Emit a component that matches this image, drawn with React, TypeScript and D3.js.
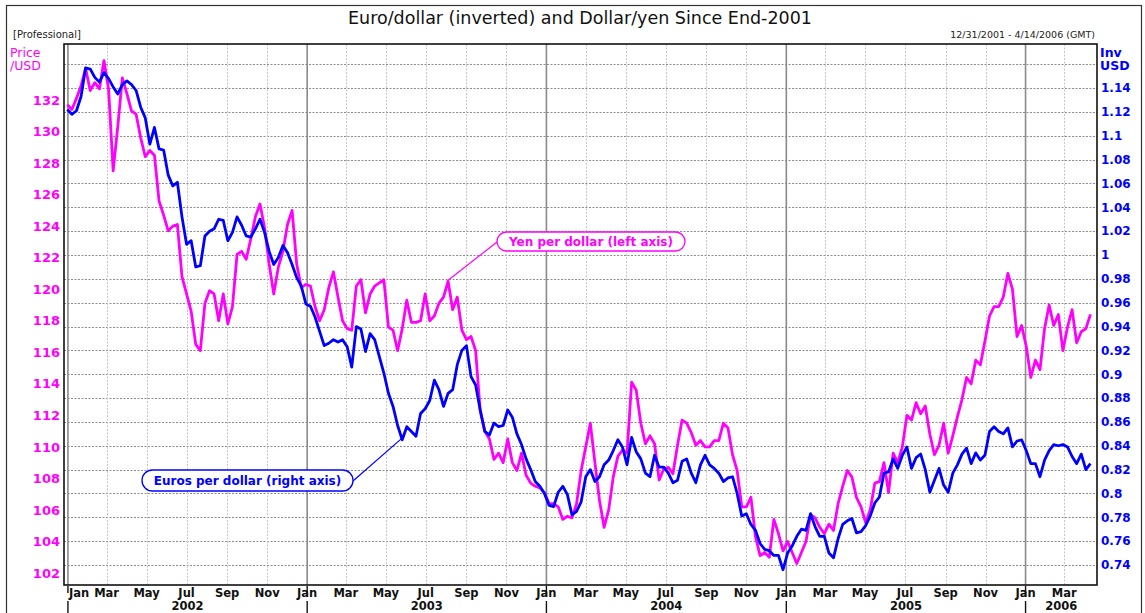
import React, { useEffect, useRef } from 'react';
import * as d3 from 'd3';

// weekly closes, first one on 12/31/2001
const seriesStart = '2001-12-31';

// Yen per dollar (left axis)
const yenPerDollar = [
  131.7, 131.4, 132.1, 132.9, 134.0, 132.6, 133.1, 132.7, 134.5, 132.7,
  127.5, 130.3, 133.4, 132.4, 131.3, 131.1, 129.6, 128.4, 128.8, 128.5,
  125.6, 124.7, 123.7, 124.0, 124.1, 120.8, 119.7, 118.6, 116.5, 116.1,
  119.1, 119.9, 119.7, 118.0, 119.7, 117.8, 118.9, 122.2, 122.4, 121.9,
  123.2, 124.6, 125.4, 123.9, 121.6, 119.7, 121.4, 122.4, 124.1, 125.0,
  121.6, 120.1, 120.3, 120.2, 118.9, 118.0, 118.7, 120.1, 121.1, 119.5,
  118.0, 117.5, 117.4, 120.2, 120.6, 118.5, 119.7, 120.2, 120.4, 120.6,
  117.6, 117.4, 116.1, 117.5, 119.3, 117.9, 117.9, 118.0, 119.7, 118.0,
  118.3, 119.1, 119.5, 120.5, 118.7, 119.5, 117.4, 116.8, 117.0, 116.1,
  112.3, 111.0, 110.5, 109.2, 109.6, 109.0, 110.5, 109.0, 108.5, 109.6,
  108.2, 107.7, 107.5, 107.4, 107.1, 106.4, 106.4, 106.2, 105.4, 105.6,
  105.5, 106.4, 108.5, 110.0, 111.5, 109.0, 106.6, 104.9, 106.0, 108.1,
  109.4, 109.8, 109.6, 114.1, 113.6, 111.5, 110.2, 110.7, 110.2, 107.9,
  108.6, 108.7, 108.3, 110.1, 111.7, 111.5, 110.9, 110.1, 110.4, 110.0,
  110.0, 110.4, 110.4, 111.5, 111.2, 109.5, 108.5, 106.2, 106.2, 106.8,
  104.3, 103.1, 103.3, 103.0, 105.4, 104.5, 103.4, 104.0, 103.3, 102.6,
  103.3, 104.0, 105.7, 105.5, 104.9, 104.5, 105.1, 104.7, 106.4, 107.5,
  108.5, 108.1, 106.8, 106.2, 105.2, 106.0, 107.7, 107.8, 109.0, 107.1,
  109.6, 109.0, 110.0, 112.0, 111.7, 112.8, 112.1, 112.6, 110.8, 109.5,
  110.1, 111.5, 109.6, 110.7, 111.9, 113.0, 114.4, 114.0, 115.5, 115.2,
  116.7, 118.3, 118.9, 118.9, 119.5, 121.0, 120.0, 117.0, 117.7, 116.4,
  114.4, 115.5, 114.9, 117.5, 119.0, 117.7, 118.4, 116.1, 117.6, 118.7,
  116.6, 117.3, 117.5, 118.4,
];

// Euros per dollar, i.e. euro/dollar inverted (right axis)
const eurosPerDollar = [
  1.122, 1.118, 1.121, 1.133, 1.157, 1.156, 1.149, 1.145, 1.153, 1.148,
  1.141, 1.135, 1.143, 1.146, 1.143, 1.138, 1.124, 1.115, 1.093, 1.107,
  1.089, 1.088, 1.067, 1.058, 1.061, 1.032, 1.009, 1.012, 0.990, 0.991,
  1.016, 1.020, 1.022, 1.030, 1.029, 1.012, 1.019, 1.032, 1.025, 1.016,
  1.015, 1.022, 1.030, 1.019, 1.003, 0.992, 0.998, 1.008, 1.002, 0.992,
  0.981, 0.974, 0.959, 0.957, 0.948, 0.936, 0.924, 0.926, 0.929, 0.927,
  0.929, 0.923, 0.906, 0.940, 0.938, 0.919, 0.934, 0.929, 0.915, 0.901,
  0.884, 0.873, 0.857, 0.845, 0.856, 0.852, 0.848, 0.867, 0.871, 0.878,
  0.895, 0.887, 0.873, 0.884, 0.887, 0.908, 0.920, 0.924, 0.898, 0.891,
  0.870, 0.852, 0.849, 0.859, 0.856, 0.857, 0.870, 0.864, 0.850, 0.841,
  0.829, 0.820, 0.810, 0.806, 0.800, 0.790, 0.789, 0.801, 0.806, 0.799,
  0.782, 0.785, 0.793, 0.814, 0.820, 0.810, 0.814, 0.824, 0.828, 0.836,
  0.845, 0.839, 0.824, 0.847, 0.835, 0.829, 0.817, 0.814, 0.832, 0.822,
  0.822, 0.817, 0.809, 0.811, 0.827, 0.829, 0.817, 0.809, 0.824, 0.832,
  0.824, 0.821, 0.817, 0.810, 0.813, 0.814, 0.800, 0.781, 0.783, 0.774,
  0.769, 0.758, 0.753, 0.752, 0.748, 0.748, 0.736, 0.750, 0.756, 0.764,
  0.770, 0.769, 0.783, 0.772, 0.764, 0.764, 0.750, 0.746, 0.762, 0.774,
  0.777, 0.779, 0.767, 0.768, 0.773, 0.781, 0.792, 0.797, 0.817, 0.818,
  0.829, 0.821, 0.832, 0.839, 0.821, 0.830, 0.833, 0.820, 0.801, 0.811,
  0.821, 0.807, 0.801, 0.817, 0.824, 0.833, 0.838, 0.825, 0.834, 0.828,
  0.832, 0.852, 0.856, 0.852, 0.850, 0.855, 0.839, 0.844, 0.845, 0.836,
  0.825, 0.825, 0.814, 0.828, 0.836, 0.841, 0.840, 0.841, 0.839, 0.831,
  0.825, 0.833, 0.820, 0.825,
];

const yenTicks = [102, 104, 106, 108, 110, 112, 114, 116, 118, 120, 122, 124, 126, 128, 130, 132];
const invTicks = [0.74, 0.76, 0.78, 0.8, 0.82, 0.84, 0.86, 0.88, 0.9, 0.92, 0.94, 0.96, 0.98, 1, 1.02, 1.04, 1.06, 1.08, 1.1, 1.12, 1.14];
const gridTicks = [...invTicks, 1.16];
const years = [2002, 2003, 2004, 2005, 2006];

const PINK = '#ff00ff';
const BLUE = '#0000ff';
const FONT = '"DejaVu Sans", Verdana, sans-serif';

export default function App() {
  const svgRef = useRef<SVGSVGElement>(null);

  useEffect(() => {
    if (!svgRef.current) return;
    const svg = d3.select(svgRef.current);
    svg.selectAll('*').remove();

    const W = 1145, H = 613;
    const left = 64, top = 44, right = 1097, bottom = 585;

    const start = d3.utcParse('%Y-%m-%d')(seriesStart) as Date;
    const dates = yenPerDollar.map((_, i) => d3.utcDay.offset(start, 7 * i));

    const x = d3.scaleUtc()
      .domain([new Date(Date.UTC(2001, 11, 26)), new Date(Date.UTC(2006, 3, 20))])
      .range([left, right]);
    const yYen = d3.scaleLinear().domain([101.24, 135.55]).range([bottom, top]);
    const yEur = d3.scaleLinear().domain([0.7232, 1.177]).range([bottom, top]);

    svg.append('rect').attr('width', W).attr('height', H).attr('fill', 'white');

    // outer frame
    svg.append('rect')
      .attr('x', 6.5).attr('y', 5.5).attr('width', 1135).attr('height', 640)
      .attr('fill', 'none').attr('stroke', '#333').attr('stroke-width', 1.2);

    svg.append('text')
      .attr('x', 580).attr('y', 24)
      .attr('text-anchor', 'middle')
      .style('font-family', FONT).style('font-size', '17.5px').style('fill', '#111')
      .text('Euro/dollar (inverted) and Dollar/yen Since End-2001');

    svg.append('text')
      .attr('x', 13).attr('y', 38)
      .style('font-family', FONT).style('font-size', '10px').style('fill', '#222')
      .text('[Professional]');

    svg.append('text')
      .attr('x', 1095).attr('y', 38).attr('text-anchor', 'end')
      .style('font-family', FONT).style('font-size', '9.5px').style('fill', '#222')
      .text('12/31/2001 - 4/14/2006 (GMT)');

    const priceLbl = svg.append('text')
      .style('font-family', FONT).style('font-size', '12.5px').style('fill', PINK);
    priceLbl.append('tspan').attr('x', 10).attr('y', 57).text('Price');
    priceLbl.append('tspan').attr('x', 10).attr('y', 70).text('/USD');

    const invLbl = svg.append('text')
      .style('font-family', FONT).style('font-size', '12.5px').style('font-weight', 'bold').style('fill', BLUE);
    invLbl.append('tspan').attr('x', 1100).attr('y', 57).text('Inv');
    invLbl.append('tspan').attr('x', 1100).attr('y', 70).text('USD');

    // grid
    const g = svg.append('g');
    g.selectAll('line.h')
      .data(gridTicks)
      .enter().append('line')
      .attr('x1', left).attr('x2', right)
      .attr('y1', d => Math.round(yEur(d)) + 0.5).attr('y2', d => Math.round(yEur(d)) + 0.5)
      .attr('stroke', '#8c8c8c').attr('stroke-dasharray', '2,1.5').attr('stroke-width', 1);

    const months = d3.utcMonth.every(2)!.range(new Date(Date.UTC(2002, 0, 1)), new Date(Date.UTC(2006, 3, 1)));
    g.selectAll('line.v')
      .data(months.filter(d => d.getUTCMonth() !== 0))
      .enter().append('line')
      .attr('x1', d => Math.round(x(d)) + 0.5).attr('x2', d => Math.round(x(d)) + 0.5)
      .attr('y1', top).attr('y2', bottom)
      .attr('stroke', '#c4c4c4').attr('stroke-dasharray', '2,1.5').attr('stroke-width', 1);

    const yearStarts = years.map(y => new Date(Date.UTC(y, 0, 1)));
    g.selectAll('line.y')
      .data(yearStarts)
      .enter().append('line')
      .attr('x1', d => x(d)).attr('x2', d => x(d))
      .attr('y1', top).attr('y2', bottom)
      .attr('stroke', '#8a8a8a').attr('stroke-width', 1.6);

    // series
    const yenLine = d3.line<number>()
      .x((_, i) => x(dates[i]))
      .y(d => yYen(d));
    const eurLine = d3.line<number>()
      .x((_, i) => x(dates[i]))
      .y(d => yEur(d));

    svg.append('path')
      .datum(yenPerDollar)
      .attr('d', yenLine)
      .attr('fill', 'none').attr('stroke', PINK).attr('stroke-width', 2.8)
      .attr('stroke-linejoin', 'round');

    svg.append('path')
      .datum(eurosPerDollar)
      .attr('d', eurLine)
      .attr('fill', 'none').attr('stroke', BLUE).attr('stroke-width', 2.8)
      .attr('stroke-linejoin', 'round');

    // plot frame
    svg.append('rect')
      .attr('x', left).attr('y', top).attr('width', right - left).attr('height', bottom - top)
      .attr('fill', 'none').attr('stroke', '#111').attr('stroke-width', 1.6);

    // left axis labels
    svg.append('g').selectAll('text')
      .data(yenTicks)
      .enter().append('text')
      .attr('x', 60).attr('y', d => yYen(d)).attr('dy', '0.36em')
      .attr('text-anchor', 'end')
      .style('font-family', FONT).style('font-size', '13px').style('font-weight', 'bold').style('fill', PINK)
      .text(d => d);

    // right axis labels
    svg.append('g').selectAll('text')
      .data(invTicks)
      .enter().append('text')
      .attr('x', 1101).attr('y', d => yEur(d)).attr('dy', '0.36em')
      .style('font-family', FONT).style('font-size', '12px').style('font-weight', 'bold').style('fill', BLUE)
      .text(d => String(+d.toFixed(2)));

    // month labels
    const fmtMonth = d3.utcFormat('%b');
    svg.append('g').selectAll('text')
      .data(months)
      .enter().append('text')
      .attr('x', (d, i) => (i === 0 ? x(d) + 1 : x(d)))
      .attr('y', 597)
      .attr('text-anchor', (_, i) => (i === 0 ? 'start' : 'middle'))
      .style('font-family', FONT).style('font-size', '11.5px').style('font-weight', 'bold').style('fill', '#111')
      .text(d => fmtMonth(d));

    // year separators under the axis
    const sep = svg.append('g');
    yearStarts.forEach(d => {
      sep.append('line').attr('x1', x(d)).attr('x2', x(d)).attr('y1', 586).attr('y2', 593)
        .attr('stroke', '#111').attr('stroke-width', 1.4);
      sep.append('line').attr('x1', x(d)).attr('x2', x(d)).attr('y1', 601).attr('y2', 613)
        .attr('stroke', '#111').attr('stroke-width', 1.4);
    });

    // year labels
    svg.append('g').selectAll('text')
      .data(years)
      .enter().append('text')
      .attr('x', y => {
        const a = x(new Date(Date.UTC(y, 0, 1)));
        const b = Math.min(right, x(new Date(Date.UTC(y + 1, 0, 1))));
        return (a + b) / 2;
      })
      .attr('y', 610)
      .attr('text-anchor', 'middle')
      .style('font-family', FONT).style('font-size', '11.5px').style('font-weight', 'bold').style('fill', '#111')
      .text(d => d);

    // callouts
    const callouts = [
      {
        text: 'Yen per dollar (left axis)', color: PINK,
        px: x(new Date(Date.UTC(2003, 7, 2))), py: yYen(120.5),
        bx: 497, by: 232, bw: 188, bh: 19, lx: 497, ly: 242,
      },
      {
        text: 'Euros per dollar (right axis)', color: BLUE,
        px: x(new Date(Date.UTC(2003, 4, 27))), py: yEur(0.847),
        bx: 142, by: 470, bw: 211, bh: 21, lx: 353, ly: 481,
      },
    ];
    callouts.forEach(c => {
      svg.append('line')
        .attr('x1', c.lx).attr('y1', c.ly).attr('x2', c.px).attr('y2', c.py)
        .attr('stroke', c.color).attr('stroke-width', 1.2);
      svg.append('rect')
        .attr('x', c.bx).attr('y', c.by).attr('width', c.bw).attr('height', c.bh)
        .attr('rx', c.bh / 2).attr('ry', c.bh / 2)
        .attr('fill', 'white').attr('stroke', c.color).attr('stroke-width', 1.3);
      svg.append('text')
        .attr('x', c.bx + c.bw / 2).attr('y', c.by + c.bh / 2).attr('dy', '0.36em')
        .attr('text-anchor', 'middle')
        .style('font-family', FONT).style('font-size', '12px').style('font-weight', 'bold').style('fill', c.color)
        .text(c.text);
    });
  }, []);

  return (
    <svg
      ref={svgRef}
      width={1145}
      height={613}
      viewBox="0 0 1145 613"
      style={{ position: 'absolute', left: 0, top: 0, display: 'block' }}
    />
  );
}
